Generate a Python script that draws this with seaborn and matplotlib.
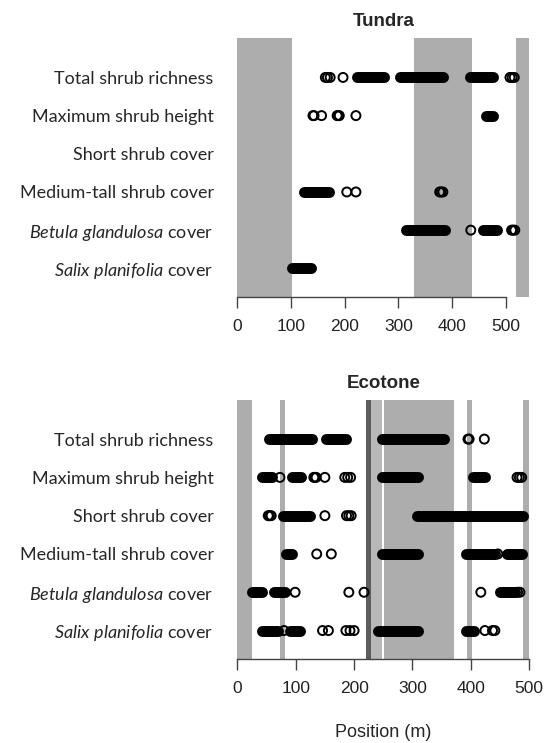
import pandas as pd
import matplotlib
matplotlib.use("Agg")
import matplotlib.pyplot as plt
import seaborn as sns

# row labels, top to bottom
row_labels = [
    "Total shrub richness",
    "Maximum shrub height",
    "Short shrub cover",
    "Medium-tall shrub cover",
    "$\\mathit{Betula\\ glandulosa}$ cover",
    "$\\mathit{Salix\\ planifolia}$ cover",
]
row_y = {lab: 6 - i for i, lab in enumerate(row_labels)}
ticks = [0, 100, 200, 300, 400, 500]

# ---- Tundra: gray bands (start, end), dense runs (start, end) and single points
tundra_bands = [(0, 101), (329, 437), (519, 544)]
tundra_runs = {
    row_labels[0]: [(223, 274), (304, 384), (433, 477)],
    row_labels[1]: [(463, 477)],
    row_labels[3]: [(125, 171)],
    row_labels[4]: [(314, 387), (457, 483)],
    row_labels[5]: [(102, 137)],
}
tundra_points = {
    row_labels[0]: [164, 168, 173, 197, 508, 512, 516],
    row_labels[1]: [141, 143, 157, 186, 188, 190, 221],
    row_labels[3]: [204, 221, 377, 380, 383],
    row_labels[4]: [435, 511, 514, 517],
}

# ---- Ecotone
ecotone_bands = [(0, 25, "#adadad"), (73, 81, "#adadad"), (221, 229, "#5c5c5c"),
                 (229, 248, "#b8b8b8"), (251, 371, "#adadad"), (393, 402, "#adadad"),
                 (489, 499, "#adadad")]
ecotone_runs = {
    row_labels[0]: [(55, 128), (152, 186), (247, 354)],
    row_labels[1]: [(42, 59), (93, 109), (247, 309), (403, 425)],
    row_labels[2]: [(78, 124), (307, 489)],
    row_labels[3]: [(83, 94), (247, 309), (391, 441), (462, 488)],
    row_labels[4]: [(26, 42), (63, 82), (449, 476)],
    row_labels[5]: [(43, 70), (90, 107), (241, 309), (392, 406)],
}
ecotone_points = {
    row_labels[0]: [395, 397, 423],
    row_labels[1]: [73, 131, 133, 135, 150, 184, 189, 194, 479, 483, 487],
    row_labels[2]: [53, 55, 58, 150, 187, 191, 195],
    row_labels[3]: [136, 161, 446],
    row_labels[4]: [99, 191, 217, 417, 480, 484],
    row_labels[5]: [80, 146, 156, 186, 193, 200, 424, 437, 441],
}

sns.set_theme(style="ticks")
plt.rcParams["font.family"] = ["Liberation Sans", "DejaVu Sans"]
plt.rcParams["mathtext.fontset"] = "custom"
plt.rcParams["mathtext.rm"] = "Lato"
plt.rcParams["mathtext.it"] = "Lato:italic"

fig = plt.figure(figsize=(5.46, 7.43), dpi=100)
ax_t = fig.add_axes([0.4346, 0.6003, 0.5348, 0.3479])
ax_e = fig.add_axes([0.4346, 0.1127, 0.5348, 0.3489])


def draw_panel(ax, title, xmax, bands, runs, points):
    for b in bands:
        col = b[2] if len(b) > 2 else "#adadad"
        ax.axvspan(b[0], b[1], color=col, lw=0, zorder=0)

    ys, x0, x1 = [], [], []
    for lab, spans in runs.items():
        for a, b in spans:
            ys.append(row_y[lab])
            x0.append(a)
            x1.append(b)
    ax.hlines(ys, x0, x1, colors="black", linewidth=7.9, capstyle="round", zorder=2)

    df = pd.DataFrame([(p, row_y[lab]) for lab, ps in points.items() for p in ps],
                      columns=["pos", "row"])
    sns.scatterplot(data=df, x="pos", y="row", ax=ax, s=42, facecolors="none",
                    edgecolor="black", linewidth=1.4, zorder=3, legend=False)

    ax.set_xlim(0, xmax)
    ax.set_ylim(0.25, 7.02)
    ax.set_xlabel("")
    ax.set_ylabel("")
    ax.set_title(title, fontsize=13.5, fontweight="bold", pad=9)

    ax.set_yticks([row_y[l] for l in row_labels], row_labels)
    for lbl in ax.get_yticklabels():
        lbl.set_fontfamily("Lato")
    ax.tick_params(axis="y", length=0, pad=17, labelsize=13)

    ax.set_xticks(ticks)
    ax.tick_params(axis="x", length=8, width=1, color="#444444", pad=8,
                   labelsize=12.5, labelcolor="#222222")
    for s in ["left", "top", "right"]:
        ax.spines[s].set_visible(False)
    ax.spines["bottom"].set_bounds(0, 500)
    ax.spines["bottom"].set_color("#444444")
    ax.spines["bottom"].set_linewidth(1)


draw_panel(ax_t, "Tundra", 544, tundra_bands, tundra_runs, tundra_points)
draw_panel(ax_e, "Ecotone", 499, ecotone_bands, ecotone_runs, ecotone_points)

fig.text(0.7015, 0.0135, "Position (m)", ha="center", va="center", fontsize=13)

fig.savefig("out.png", dpi=100, facecolor="white")
